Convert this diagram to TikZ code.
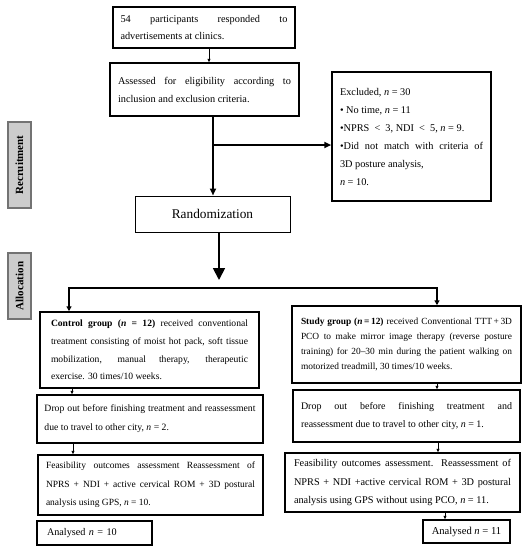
\documentclass[tikz,border=0pt]{standalone}
\usepackage{fontspec}
\setmainfont{Liberation Serif}
\usetikzlibrary{arrows.meta}
\begin{document}
\begin{tikzpicture}[x=1pt,y=-1pt,
  box/.style={draw, line width=1.5pt, inner sep=0pt, align=justify},
  lbl/.style={draw=black!55, fill=black!20, line width=1.1pt, inner sep=0pt, rotate=90, font=\fontsize{11}{12}\selectfont\bfseries},
  thinarrow/.style={line width=0.7pt, -{Triangle[length=3.5pt,width=3pt]}},
  thickarrow/.style={line width=1.8pt, -{Triangle[length=7pt,width=6pt]}},
  splitarrow/.style={line width=1.6pt, {Triangle[length=5pt,width=5pt]}-{Triangle[length=5pt,width=5pt]}},
  bigarrow/.style={line width=1.8pt, -{Triangle[length=12pt,width=12pt]}},
]
\useasboundingbox (0,0) rectangle (529,550);

% boxes
\node[box, minimum width=182pt, minimum height=41pt, text width=167pt, font=\fontsize{10.3}{17}\selectfont] (b1) at (204,27.5)
  {54 participants responded to\linebreak advertisements at clinics.};
\node[box, minimum width=189pt, minimum height=53pt, text width=173pt, font=\fontsize{10.3}{18}\selectfont] (b2) at (204.5,89.5)
  {Assessed for eligibility according to\linebreak inclusion and exclusion criteria.};
\node[box, minimum width=159pt, minimum height=129pt, text width=143pt, font=\fontsize{10.3}{18}\selectfont] (excl) at (411.5,136.5)
  {Excluded, \textit{n} = 30\newline
   • No time, \textit{n} = 11\newline
   •NPRS~ <~ 3, NDI~ <~ 5, \textit{n} = 9.\newline
   •Did not match with criteria of\linebreak
   3D posture analysis,\newline
   \textit{n} = 10.};
\node[draw, line width=1pt, minimum width=155pt, minimum height=36pt, inner sep=0pt, font=\fontsize{13.3}{15}\selectfont] (rand) at (212.5,214) {Randomization};

\node[lbl, minimum width=86pt, minimum height=23pt] (recr) at (19.5,165) {Recruitment};
\node[lbl, minimum width=66pt, minimum height=23pt] (alloc) at (19.5,286) {Allocation};

\node[box, minimum width=219pt, minimum height=76pt, text width=197pt, font=\fontsize{9.6}{17.7}\selectfont] (ctrl) at (149.5,350)
  {\textbf{Control group (\textit{n} = 12)} received conventional\linebreak treatment consisting of moist hot pack, soft tissue\linebreak mobilization, manual therapy, therapeutic\linebreak exercise. 30 times/10 weeks.};
\node[box, minimum width=226pt, minimum height=48pt, text width=211pt, font=\fontsize{9.7}{19}\selectfont] (cdrop) at (150,419)
  {Drop out before finishing treatment and reassessment\linebreak due to travel to other city, \textit{n}~=~2.};
\node[box, minimum width=225pt, minimum height=60pt, text width=209pt, font=\fontsize{9.5}{18.5}\selectfont] (cfeas) at (150.5,485)
  {Feasibility outcomes assessment Reassessment of\linebreak NPRS + NDI + active cervical ROM + 3D postural\linebreak analysis using GPS, \textit{n}~=~10.};
\node[box, align=left, minimum width=115pt, minimum height=24pt, text width=95pt, font=\fontsize{10.2}{12}\selectfont] (cana) at (94.5,533)
  {Analysed \textit{n} = 10};

\node[box, minimum width=229pt, minimum height=77pt, text width=211pt, font=\fontsize{9.4}{15.3}\selectfont] (stud) at (406.5,344.5)
  {\textbf{Study group (\textit{n}\,=\,12)} received Conventional TTT\,+\,3D\linebreak PCO to make mirror image therapy (reverse posture\linebreak training) for 20–30 min during the patient walking on\linebreak motorized treadmill, 30 times/10 weeks.};
\node[box, minimum width=227pt, minimum height=52pt, text width=211pt, font=\fontsize{10}{18}\selectfont] (sdrop) at (406.5,416)
  {Drop out before finishing treatment and\linebreak reassessment due to travel to other city, \textit{n}~=~1.};
\node[box, minimum width=235pt, minimum height=59pt, text width=217pt, font=\fontsize{10.3}{18.5}\selectfont] (sfeas) at (402.5,482.5)
  {Feasibility outcomes assessment. Reassessment of\linebreak NPRS + NDI +active cervical ROM + 3D postural\linebreak analysis using GPS without using PCO, \textit{n}~=~11.};
\node[box, align=center, minimum width=87pt, minimum height=23pt, font=\fontsize{10.6}{12}\selectfont] (sana) at (466.5,531.5)
  {Analysed \textit{n} = 11};

% helper coordinates
\coordinate (xa) at (209,0);
\coordinate (xb) at (213,0);
\coordinate (br) at (213,145);
\coordinate (xr) at (219,0);
\coordinate (rtip) at (219,280);
\coordinate (splitL) at (69,288);
\coordinate (splitR) at (437,288);
\coordinate (xc1) at (72,0);
\coordinate (xc2) at (73,0);
\coordinate (xs1) at (437,0);
\coordinate (xs2) at (438,0);
\coordinate (xs3) at (445,0);

% connectors
\draw[thinarrow] (b1.south -| xa) -- (b2.north -| xa);
\draw[thickarrow] (b2.south -| xb) -- (rand.north -| xb);
\draw[thickarrow] (br) -- (excl.west |- br);
\draw[bigarrow] (rand.south -| xr) -- (rtip);
\draw[splitarrow] (ctrl.north -| splitL) -- (splitL) -- (splitR) -- (stud.north -| splitR);
\draw[thinarrow] (ctrl.south -| xc1) -- (cdrop.north -| xc1);
\draw[thinarrow] (cdrop.south -| xc2) -- (cfeas.north -| xc2);
\draw[thinarrow] (stud.south -| xs1) -- (sdrop.north -| xs1);
\draw[thinarrow] (sdrop.south -| xs2) -- (sfeas.north -| xs2);
\draw[thinarrow] (sfeas.south -| xs3) -- (sana.north -| xs3);
\end{tikzpicture}
\end{document}
